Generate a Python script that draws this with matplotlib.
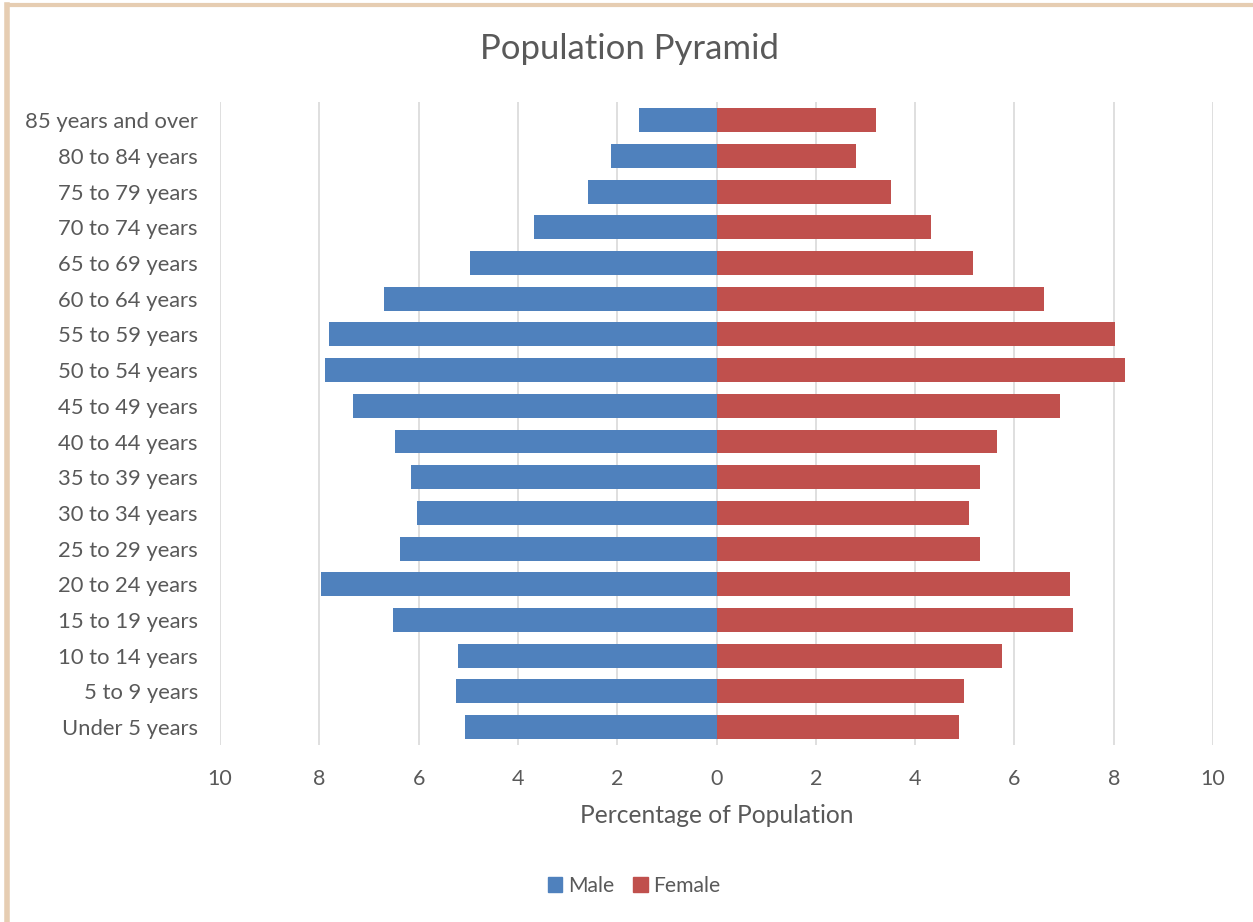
import numpy as np
import matplotlib.pyplot as plt
from matplotlib.lines import Line2D
from matplotlib.patches import Patch

# Tranches d'age (du bas vers le haut)
age_groups = ['Under 5 years', '5 to 9 years', '10 to 14 years', '15 to 19 years',
              '20 to 24 years', '25 to 29 years', '30 to 34 years', '35 to 39 years',
              '40 to 44 years', '45 to 49 years', '50 to 54 years', '55 to 59 years',
              '60 to 64 years', '65 to 69 years', '70 to 74 years', '75 to 79 years',
              '80 to 84 years', '85 years and over']
male = [5.07, 5.25, 5.21, 6.52, 7.97, 6.38, 6.04, 6.16, 6.48, 7.32,
        7.89, 7.81, 6.70, 4.97, 3.68, 2.58, 2.13, 1.57]
female = [4.89, 4.99, 5.75, 7.18, 7.12, 5.31, 5.09, 5.31, 5.65, 6.92,
          8.23, 8.03, 6.60, 5.17, 4.31, 3.52, 2.80, 3.22]
x_ticks = [-10, -8, -6, -4, -2, 0, 2, 4, 6, 8, 10]

plt.rcParams['font.family'] = ['Lato', 'DejaVu Sans']
text_color = '#595959'
male_color = '#4F81BD'
female_color = '#C0504D'

fig = plt.figure(figsize=(12.53, 9.22), dpi=100)
ax = fig.add_axes([0.1756, 0.192, 0.7925, 0.697])

y = np.arange(len(age_groups))
ax.barh(y, -np.array(male), height=0.67, color=male_color, zorder=3)
ax.barh(y, female, height=0.67, color=female_color, zorder=3)

ax.set_xlim(-10, 10)
ax.set_ylim(-0.5, len(age_groups) - 0.5)
ax.set_xticks(x_ticks)
ax.set_xticklabels([str(abs(t)) for t in x_ticks])
ax.set_yticks(y)
ax.set_yticklabels(age_groups)
ax.tick_params(axis='y', length=0, labelsize=15.8, colors=text_color, pad=16)
ax.tick_params(axis='x', length=0, labelsize=15.5, colors=text_color, pad=17)
for t in x_ticks:
    ax.axvline(t, color='#D9D9D9', lw=1.2, zorder=1)
for s in ax.spines.values():
    s.set_visible(False)

ax.set_xlabel('Percentage of Population', fontsize=17.7, color=text_color, labelpad=11)
fig.text(0.502, 0.947, 'Population Pyramid', ha='center', va='center',
         fontsize=25, color=text_color)

handles = [Patch(color=male_color), Patch(color=female_color)]
fig.legend(handles, ['Male', 'Female'], loc='center', bbox_to_anchor=(0.506, 0.039),
           ncol=2, frameon=False, fontsize=15.2, labelcolor=text_color,
           handlelength=0.7, handleheight=0.7, handletextpad=0.25, columnspacing=0.9)

# bordure beige autour du graphique
fig.add_artist(Line2D([0.0056, 0.0056], [0, 0.995], color='#E6CDB2', lw=4))
fig.add_artist(Line2D([0.0056, 1.0], [0.9945, 0.9945], color='#E6CDB2', lw=3))

fig.savefig('out.png', dpi=100)
